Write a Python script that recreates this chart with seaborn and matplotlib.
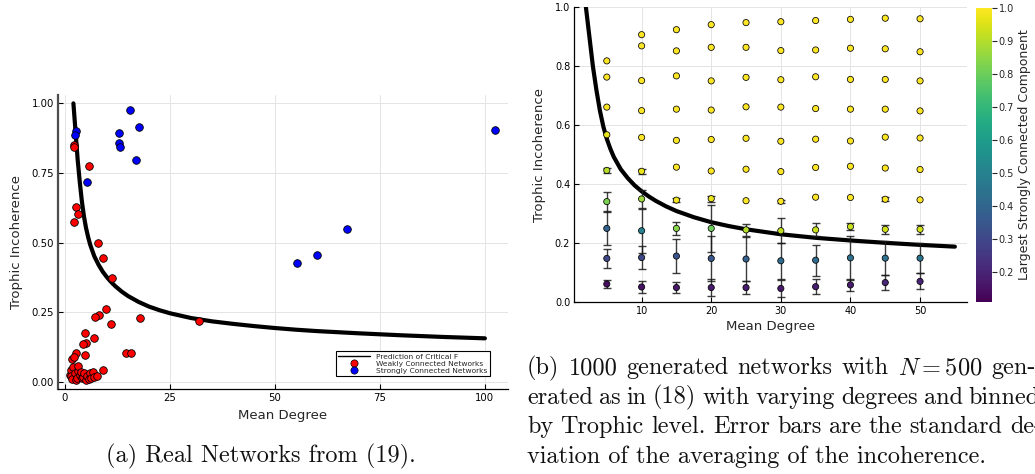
import numpy as np
import pandas as pd
import matplotlib
matplotlib.use("Agg")
import matplotlib.pyplot as plt
from matplotlib.lines import Line2D
from matplotlib.colors import Normalize
from matplotlib.cm import ScalarMappable
import seaborn as sns

# ---- Predicted critical F as a function of mean degree ----
crit_degree = [2.0, 2.25, 2.5, 2.75, 3.0, 3.5, 4.0, 4.5, 5.0, 5.5, 6.0, 7.0, 8.0, 9.0,
               10.0, 11.0, 12.0, 13.5, 15.0, 17.5, 20.0, 22.5, 25.0, 30.0, 35.0, 40.0,
               45.0, 50.0, 55.0, 60.0, 70.0, 80.0, 90.0, 100.0]
crit_f = [1.0, 0.95, 0.90, 0.85, 0.80, 0.72, 0.65, 0.595, 0.553, 0.52, 0.492, 0.45,
          0.42, 0.395, 0.375, 0.358, 0.343, 0.324, 0.308, 0.287, 0.270, 0.257, 0.246,
          0.229, 0.217, 0.208, 0.200, 0.193, 0.187, 0.182, 0.174, 0.167, 0.161, 0.156]

# ---- Real networks ----
weak_degree = [2.14, 2.06, 5.71, 2.7, 3.1, 2.06, 7.94, 9.13, 11.19, 9.84, 8.0, 7.14,
               17.86, 10.95, 31.9, 4.68, 6.9, 5.08, 4.29, 14.6, 15.6, 2.7, 4.84,
               1.75, 2.2, 1.3, 1.43, 1.5, 1.7, 2.0, 2.3, 2.5, 2.9, 3.0, 3.2, 3.5,
               3.8, 4.0, 4.3, 4.5, 4.9, 5.3, 5.6, 6.0, 6.3, 6.7, 6.9, 7.5, 9.1]
weak_incoh = [0.850, 0.842, 0.774, 0.628, 0.601, 0.574, 0.498, 0.444, 0.374, 0.260,
              0.241, 0.234, 0.228, 0.208, 0.217, 0.174, 0.156, 0.141, 0.135, 0.102,
              0.103, 0.104, 0.097, 0.082, 0.088, 0.024, 0.044, 0.020, 0.010, 0.052,
              0.030, 0.006, 0.014, 0.040, 0.058, 0.025, 0.035, 0.012, 0.018, 0.030,
              0.006, 0.020, 0.010, 0.030, 0.014, 0.036, 0.018, 0.020, 0.044]
strong_degree = [15.5, 17.7, 2.62, 2.46, 12.86, 12.86, 13.0, 17.0, 5.3,
                 102.5, 67.06, 60.08, 55.2]
strong_incoh = [0.976, 0.914, 0.902, 0.886, 0.892, 0.857, 0.844, 0.795, 0.716,
                0.904, 0.548, 0.455, 0.425]

# ---- Generated networks, binned by trophic level (one block per mean degree) ----
gen_degree = ([5] * 9 + [10] * 10 + [15] * 10 + [20] * 10 + [25] * 10 +
              [30] * 10 + [35] * 10 + [40] * 10 + [45] * 10 + [50] * 10)
gen_incoh = [
    0.818, 0.763, 0.661, 0.567, 0.446, 0.340, 0.249, 0.147, 0.060,
    0.907, 0.869, 0.751, 0.649, 0.558, 0.443, 0.349, 0.241, 0.150, 0.050,
    0.924, 0.852, 0.767, 0.654, 0.548, 0.457, 0.345, 0.249, 0.155, 0.048,
    0.941, 0.864, 0.750, 0.651, 0.551, 0.444, 0.350, 0.249, 0.147, 0.048,
    0.948, 0.864, 0.762, 0.662, 0.555, 0.450, 0.343, 0.244, 0.145, 0.048,
    0.951, 0.853, 0.754, 0.661, 0.545, 0.442, 0.341, 0.241, 0.139, 0.045,
    0.955, 0.855, 0.764, 0.656, 0.552, 0.456, 0.355, 0.244, 0.141, 0.051,
    0.959, 0.861, 0.755, 0.654, 0.546, 0.460, 0.354, 0.255, 0.149, 0.057,
    0.963, 0.859, 0.755, 0.654, 0.559, 0.454, 0.348, 0.246, 0.148, 0.065,
    0.961, 0.849, 0.750, 0.648, 0.556, 0.449, 0.346, 0.246, 0.148, 0.069,
]
gen_err = [
    0, 0, 0, 0, 0.008, 0.034, 0.058, 0.033, 0.013,
    0, 0, 0, 0, 0, 0.008, 0.030, 0.075, 0.040, 0.022,
    0, 0, 0, 0, 0, 0, 0.006, 0.022, 0.057, 0.020,
    0, 0, 0, 0, 0, 0, 0.010, 0.080, 0.075, 0.028,
    0, 0, 0, 0, 0, 0, 0, 0.020, 0.075, 0.023,
    0, 0, 0, 0, 0, 0, 0.006, 0.042, 0.062, 0.030,
    0, 0, 0, 0, 0, 0, 0, 0.022, 0.053, 0.025,
    0, 0, 0, 0, 0, 0, 0, 0.012, 0.075, 0.020,
    0, 0, 0, 0, 0, 0, 0.006, 0.015, 0.057, 0.025,
    0, 0, 0, 0, 0, 0, 0, 0.015, 0.052, 0.027,
]
gen_scc = [
    1.0, 1.0, 1.0, 0.97, 0.90, 0.82, 0.38, 0.30, 0.14,
    1.0, 1.0, 1.0, 1.0, 1.0, 0.97, 0.87, 0.50, 0.30, 0.15,
    1.0, 1.0, 1.0, 1.0, 1.0, 1.0, 0.98, 0.84, 0.34, 0.16,
    1.0, 1.0, 1.0, 1.0, 1.0, 1.0, 0.97, 0.80, 0.35, 0.17,
    1.0, 1.0, 1.0, 1.0, 1.0, 1.0, 1.0, 0.90, 0.38, 0.17,
    1.0, 1.0, 1.0, 1.0, 1.0, 1.0, 1.0, 0.92, 0.42, 0.17,
    1.0, 1.0, 1.0, 1.0, 1.0, 1.0, 1.0, 0.93, 0.42, 0.18,
    1.0, 1.0, 1.0, 1.0, 1.0, 1.0, 1.0, 0.93, 0.44, 0.18,
    1.0, 1.0, 1.0, 1.0, 1.0, 1.0, 1.0, 0.94, 0.44, 0.20,
    1.0, 1.0, 1.0, 1.0, 1.0, 1.0, 1.0, 0.94, 0.45, 0.20,
]
scc_range = (0.11, 1.0)

caption_a = "(a) Real Networks from (19)."
caption_b = [
    "(b) 1000 generated networks with $N = 500$ gen-",
    "erated as in (18) with varying degrees and binned",
    "by Trophic level. Error bars are the standard de-",
    "viation of the averaging of the incoherence.",
]

sns.set_style("white")
plt.rcParams["font.family"] = ["DejaVu Sans"]
plt.rcParams["mathtext.fontset"] = "cm"

W, H = 1035, 474
fig = plt.figure(figsize=(W / 100, H / 100), dpi=100)


def px_axes(left, top, right, bottom):
    return fig.add_axes([left / W, 1 - bottom / H, (right - left) / W, (bottom - top) / H])


def style_axes(ax, tick_size):
    for s in ("top", "right"):
        ax.spines[s].set_visible(False)
    for s in ("left", "bottom"):
        ax.spines[s].set_color("black")
        ax.spines[s].set_linewidth(0.9)
    ax.grid(True, color="#e4e4e4", linewidth=0.7)
    ax.set_axisbelow(True)
    ax.tick_params(direction="in", length=3.5, width=0.8, labelsize=tick_size,
                   colors="black", pad=3, left=True, bottom=True)


crit_df = pd.DataFrame({"k": crit_degree, "F": crit_f})

# ---------------- (a) real networks ----------------
axa = px_axes(58, 95, 508, 389)
style_axes(axa, 7.3)
axa.spines["left"].set_color("#4d4d4d")
axa.spines["left"].set_linewidth(1.6)
sns.lineplot(data=crit_df, x="k", y="F", ax=axa, color="black", linewidth=3.0,
             sort=True, zorder=2)
sns.scatterplot(x=weak_degree, y=weak_incoh, ax=axa, color="#ff0000", s=30,
                edgecolor="black", linewidth=0.6, zorder=3)
sns.scatterplot(x=strong_degree, y=strong_incoh, ax=axa, color="#0000ff", s=30,
                edgecolor="black", linewidth=0.6, zorder=4)
axa.set_xlim(-1.67, 105.5)
axa.set_ylim(-0.026, 1.03)
axa.set_xticks([0, 25, 50, 75, 100])
axa.set_yticks([0, 0.25, 0.5, 0.75, 1.0])
axa.set_yticklabels(["0.00", "0.25", "0.50", "0.75", "1.00"])
axa.set_xlabel("Mean Degree", fontsize=9.5, labelpad=4)
axa.set_ylabel("Trophic Incoherence", fontsize=9.5, labelpad=6)
handles = [
    Line2D([], [], color="black", linewidth=1.0),
    Line2D([], [], linestyle="none", marker="o", markersize=5.2,
           markerfacecolor="#ff0000", markeredgecolor="black", markeredgewidth=0.5),
    Line2D([], [], linestyle="none", marker="o", markersize=5.2,
           markerfacecolor="#0000ff", markeredgecolor="black", markeredgewidth=0.5),
]
leg = axa.legend(handles, ["Prediction of Critical F", "Weakly Connected Networks",
                           "Strongly Connected Networks"],
                 loc="lower right", bbox_to_anchor=(0.968, 0.03), fontsize=5.4,
                 frameon=True, fancybox=False, edgecolor="black", framealpha=1,
                 handlelength=4.2, handletextpad=0.8, borderpad=0.35,
                 labelspacing=0.1)
leg.get_frame().set_linewidth(0.8)

# ---------------- (b) generated networks ----------------
gen_df = pd.DataFrame({"k": gen_degree, "F": gen_incoh, "err": gen_err, "scc": gen_scc})
axb = px_axes(574.3, 7.3, 966.7, 301.7)
style_axes(axb, 7.0)
sns.lineplot(data=crit_df[crit_df["k"] <= 55], x="k", y="F", ax=axb, color="black",
             linewidth=3.0, sort=True, zorder=2)
eb = gen_df[gen_df["err"] > 0]
axb.errorbar(eb["k"], eb["F"], yerr=eb["err"], fmt="none", ecolor="#1a1a1a",
             elinewidth=1.0, capsize=3.0, capthick=1.0, alpha=0.85, zorder=3)
sns.scatterplot(data=gen_df, x="k", y="F", hue="scc", palette="viridis",
                hue_norm=scc_range, s=20, edgecolor="black", linewidth=0.55,
                legend=False, ax=axb, zorder=4)
axb.set_xlim(0.33, 56.7)
axb.set_ylim(0, 1.0)
axb.set_xticks([10, 20, 30, 40, 50])
axb.set_yticks([0, 0.2, 0.4, 0.6, 0.8, 1.0])
axb.set_yticklabels(["0.0", "0.2", "0.4", "0.6", "0.8", "1.0"])
axb.set_xlabel("Mean Degree", fontsize=9.5, labelpad=3)
axb.set_ylabel("Trophic Incoherence", fontsize=9.5, labelpad=6)

cax = px_axes(976, 8, 992.3, 301.7)
sm = ScalarMappable(norm=Normalize(*scc_range), cmap="viridis")
cb = fig.colorbar(sm, cax=cax)
cb.outline.set_visible(False)
cb.set_ticks([0.2, 0.3, 0.4, 0.5, 0.6, 0.7, 0.8, 0.9, 1.0])
cb.ax.tick_params(labelsize=7.0, length=3.5, width=0.8, pad=1)
cb.set_label("Largest Strongly Connected Component", fontsize=9.0, labelpad=3)

# ---------------- captions ----------------
cap_font = dict(family="cmr10", fontsize=17.5, color="#111111")
fig.text(261 / W, 1 - 456 / H, caption_a, ha="center", va="center", **cap_font)

# Paragraph set as a justified column: each line but the last is spread so
# that its words reach the column's right edge.
renderer = fig.canvas.get_renderer()
col_left = 527.0
line_right = [1036.0, 1040.0, 1042.0]


def word_tokens(line):
    tokens, buf, in_math = [], "", False
    for ch in line:
        if ch == "$":
            in_math = not in_math
        if ch == " " and not in_math:
            if buf:
                tokens.append(buf)
            buf = ""
        else:
            buf += ch
    if buf:
        tokens.append(buf)
    return tokens


for i, line in enumerate(caption_b):
    y = 1 - (368 + 29.6 * i) / H
    if i == len(caption_b) - 1:
        fig.text(col_left / W, y, line, ha="left", va="center", **cap_font)
        continue
    words = word_tokens(line)
    arts = [fig.text(0, y, w, ha="left", va="center", **cap_font) for w in words]
    widths = [a.get_window_extent(renderer).width for a in arts]
    gap = (line_right[i] - col_left - sum(widths)) / (len(words) - 1)
    x = col_left
    for a, w in zip(arts, widths):
        a.set_x(x / W)
        x += w + gap

fig.savefig("out.png", dpi=100)
